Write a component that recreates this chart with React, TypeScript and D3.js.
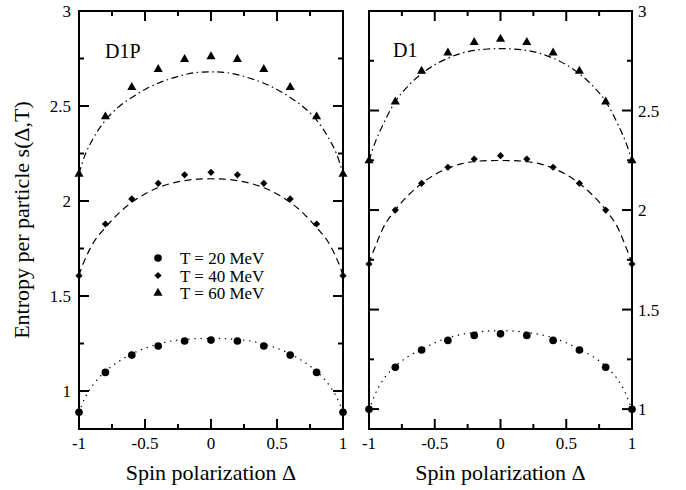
import React from "react";
import * as d3 from "d3";

// Marker data (Δ grid)
const deltas = [-1, -0.8, -0.6, -0.4, -0.2, 0, 0.2, 0.4, 0.6, 0.8, 1];
const d1pT20 = [0.888, 1.098, 1.189, 1.237, 1.263, 1.268, 1.263, 1.237, 1.189, 1.098, 0.888];
const d1pT40 = [1.607, 1.879, 2.011, 2.093, 2.138, 2.151, 2.138, 2.093, 2.011, 1.879, 1.607];
const d1pT60 = [2.142, 2.444, 2.598, 2.693, 2.746, 2.76, 2.746, 2.693, 2.598, 2.444, 2.142];
const d1T20 = [0.999, 1.21, 1.297, 1.345, 1.37, 1.378, 1.37, 1.345, 1.297, 1.21, 0.999];
const d1T40 = [1.729, 2.0, 2.134, 2.215, 2.256, 2.273, 2.256, 2.215, 2.134, 2.0, 1.729];
const d1T60 = [2.248, 2.544, 2.698, 2.79, 2.843, 2.859, 2.843, 2.79, 2.698, 2.544, 2.248];

// Curve data
const curveDeltas = [-1, -0.98, -0.95, -0.9, -0.8, -0.7, -0.6, -0.5, -0.4, -0.3, -0.2, -0.1, 0,
  0.1, 0.2, 0.3, 0.4, 0.5, 0.6, 0.7, 0.8, 0.9, 0.95, 0.98, 1];
const cD1pT20 = [0.888, 0.925, 0.97, 1.026, 1.103, 1.155, 1.195, 1.225, 1.247, 1.263, 1.271, 1.276, 1.277,
  1.276, 1.271, 1.263, 1.247, 1.225, 1.195, 1.155, 1.103, 1.026, 0.97, 0.925, 0.888];
const cD1pT40 = [1.607, 1.65, 1.70, 1.77, 1.86, 1.935, 1.993, 2.037, 2.07, 2.093, 2.107, 2.115, 2.117,
  2.115, 2.107, 2.093, 2.07, 2.037, 1.993, 1.935, 1.86, 1.77, 1.70, 1.65, 1.607];
const cD1pT60 = [2.142, 2.19, 2.25, 2.32, 2.425, 2.495, 2.545, 2.587, 2.62, 2.645, 2.665, 2.677, 2.68,
  2.677, 2.665, 2.645, 2.62, 2.587, 2.545, 2.495, 2.425, 2.32, 2.25, 2.19, 2.142];
const cD1T20 = [0.999, 1.03, 1.08, 1.14, 1.215, 1.265, 1.30, 1.333, 1.358, 1.375, 1.385, 1.392, 1.394,
  1.392, 1.385, 1.375, 1.358, 1.333, 1.30, 1.265, 1.215, 1.14, 1.08, 1.03, 0.999];
const cD1T40 = [1.729, 1.77, 1.82, 1.9, 2.0, 2.075, 2.133, 2.178, 2.21, 2.232, 2.244, 2.248, 2.249,
  2.248, 2.244, 2.232, 2.21, 2.178, 2.133, 2.075, 2.0, 1.9, 1.82, 1.77, 1.729];
const cD1T60 = [2.248, 2.29, 2.345, 2.42, 2.545, 2.625, 2.685, 2.73, 2.763, 2.787, 2.802, 2.809, 2.811,
  2.809, 2.802, 2.787, 2.763, 2.73, 2.685, 2.625, 2.545, 2.42, 2.345, 2.29, 2.248];

const xMajor = [-1, -0.5, 0, 0.5, 1];
const xMajorLabels = ["-1", "-0.5", "0", "0.5", "1"];
const xMinor = [-0.75, -0.25, 0.25, 0.75];
const yMajor = [1, 1.5, 2, 2.5, 3];
const yMajorLabels = ["1", "1.5", "2", "2.5", "3"];
const yMinor = [0.75, 1.25, 1.75, 2.25, 2.75];
const legendLabels = ["T = 20 MeV", "T = 40 MeV", "T = 60 MeV"];

const FONT = "'Liberation Serif', 'Times New Roman', serif";
const TOP = 11;
const BOTTOM = 429;

type PanelProps = {
  x0: number; x1: number; yMin: number; name: string; nameX: number; nameY: number;
  m20: number[]; m40: number[]; m60: number[];
  c20: number[]; c40: number[]; c60: number[];
  labelsLeft: boolean; legend: boolean;
};

const sym = (type: d3.SymbolType, size: number) => d3.symbol().type(type).size(size)() as string;

function Panel(p: PanelProps) {
  const x = d3.scaleLinear().domain([-1, 1]).range([p.x0, p.x1]);
  const y = d3.scaleLinear().domain([p.yMin, 3]).range([BOTTOM, TOP]);
  const line = (vals: number[]) =>
    d3.line<number>().x((_, i) => x(curveDeltas[i])).y((v) => y(v)).curve(d3.curveMonotoneX)(vals) as string;
  const circle = sym(d3.symbolCircle, 46);
  const diamond = d3.symbol().type(d3.symbolSquare).size(26)() as string;
  const tri = sym(d3.symbolTriangle, 36);
  const MJ = 10, MN = 5;
  const yTicksMinor = yMinor.filter((v) => v >= p.yMin);
  const cx = (p.x0 + p.x1) / 2;
  return (
    <g>
      {/* curves */}
      <path d={line(p.c20)} fill="none" stroke="#000" strokeWidth={1.4} strokeDasharray="0.1 6" strokeLinecap="round" />
      <path d={line(p.c40)} fill="none" stroke="#000" strokeWidth={1.2} strokeDasharray="7 4.5" />
      <path d={line(p.c60)} fill="none" stroke="#000" strokeWidth={1.2} strokeDasharray="7 3.5 1.5 3.5" />
      {/* frame */}
      <rect x={p.x0} y={TOP} width={p.x1 - p.x0} height={BOTTOM - TOP} fill="none" stroke="#000" strokeWidth={2} />
      {/* x ticks */}
      {xMajor.map((v) => (
        <g key={"xm" + v}>
          <line x1={x(v)} x2={x(v)} y1={BOTTOM} y2={BOTTOM - MJ} stroke="#000" strokeWidth={2} />
          <line x1={x(v)} x2={x(v)} y1={TOP} y2={TOP + MJ} stroke="#000" strokeWidth={2} />
        </g>
      ))}
      {xMinor.map((v) => (
        <g key={"xn" + v}>
          <line x1={x(v)} x2={x(v)} y1={BOTTOM} y2={BOTTOM - MN} stroke="#000" strokeWidth={2} />
          <line x1={x(v)} x2={x(v)} y1={TOP} y2={TOP + MN} stroke="#000" strokeWidth={2} />
        </g>
      ))}
      {xMajor.map((v, i) => (
        <text key={"xl" + v} x={x(v)} y={449} textAnchor="middle" fontFamily={FONT} fontSize={17}>{xMajorLabels[i]}</text>
      ))}
      {/* y ticks */}
      {yMajor.map((v) => (
        <g key={"ym" + v}>
          <line x1={p.x0} x2={p.x0 + MJ} y1={y(v)} y2={y(v)} stroke="#000" strokeWidth={2} />
          <line x1={p.x1} x2={p.x1 - MJ} y1={y(v)} y2={y(v)} stroke="#000" strokeWidth={2} />
        </g>
      ))}
      {yTicksMinor.map((v) => (
        <g key={"yn" + v}>
          <line x1={p.x0} x2={p.x0 + MN} y1={y(v)} y2={y(v)} stroke="#000" strokeWidth={2} />
          <line x1={p.x1} x2={p.x1 - MN} y1={y(v)} y2={y(v)} stroke="#000" strokeWidth={2} />
        </g>
      ))}
      {yMajor.map((v, i) => (
        <text key={"yl" + v} x={p.labelsLeft ? p.x0 - 8 : p.x1 + 6} y={y(v) + 6}
          textAnchor={p.labelsLeft ? "end" : "start"} fontFamily={FONT} fontSize={17}>{yMajorLabels[i]}</text>
      ))}
      {/* markers */}
      {deltas.map((d, i) => (
        <g key={"mk" + i}>
          <path d={circle} transform={`translate(${x(d)},${y(p.m20[i])})`} fill="#000" />
          <path d={diamond} transform={`translate(${x(d)},${y(p.m40[i])}) rotate(45)`} fill="#000" />
          <path d={tri} transform={`translate(${x(d)},${y(p.m60[i])})`} fill="#000" />
        </g>
      ))}
      <text x={p.nameX} y={p.nameY} fontFamily={FONT} fontSize={20}>{p.name}</text>
      <text x={cx} y={480} textAnchor="middle" fontFamily={FONT} fontSize={22}>Spin polarization Δ</text>
      {p.legend && (
        <g>
          {legendLabels.map((t, i) => {
            const ly = 258 + i * 17.5;
            const s = i === 0 ? circle : i === 1 ? diamond : tri;
            return (
              <g key={t}>
                <path d={s} transform={`translate(158,${ly})${i === 1 ? " rotate(45)" : ""}`} fill="#000" />
                <text x={180} y={ly + 6} fontFamily={FONT} fontSize={17}>{t}</text>
              </g>
            );
          })}
        </g>
      )}
    </g>
  );
}

export default function App() {
  return (
    <svg width={686} height={490} style={{ position: "absolute", left: 0, top: 0, background: "#fff" }}>
      <rect width={686} height={490} fill="#fff" />
      <Panel x0={79} x1={343} yMin={0.8} name="D1P" nameX={105} nameY={58}
        m20={d1pT20} m40={d1pT40} m60={d1pT60} c20={cD1pT20} c40={cD1pT40} c60={cD1pT60}
        labelsLeft={true} legend={true} />
      <Panel x0={369} x1={632} yMin={0.9} name="D1" nameX={393} nameY={57}
        m20={d1T20} m40={d1T40} m60={d1T60} c20={cD1T20} c40={cD1T40} c60={cD1T60}
        labelsLeft={false} legend={false} />
      <text transform="translate(29,220) rotate(-90)" textAnchor="middle" fontFamily={FONT} fontSize={22}>
        Entropy per particle s(Δ,T)
      </text>
    </svg>
  );
}
